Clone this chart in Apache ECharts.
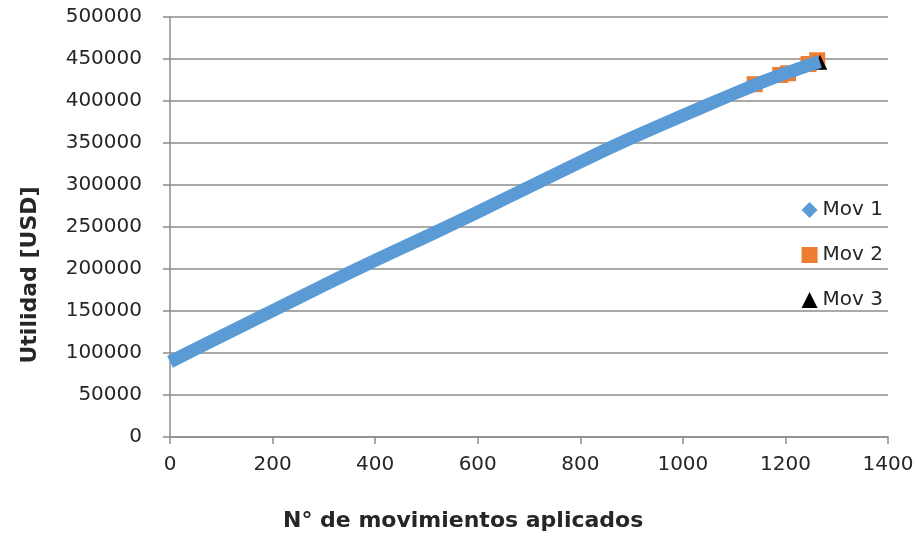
<!DOCTYPE html>
<html>
<head>
<meta charset="utf-8">
<script src="https://cdn.jsdelivr.net/npm/echarts@6/dist/echarts.min.js"></script>
<style>
  html, body { margin: 0; padding: 0; background: #fff; }
  #chart { width: 918px; height: 537px; }
</style>
</head>
<body>
<div id="chart"></div>
<script>
// valores
const mov1X = [0, 50, 100, 150, 200, 250, 300, 350, 400, 450, 500, 550, 600, 650, 700, 750, 800, 850, 900, 950, 1000, 1050, 1100, 1150, 1200, 1250, 1267];
const mov1Y = [89500, 104700, 119900, 135100, 150300, 165500, 180600, 195700, 210200, 224500, 238700, 253000, 267800, 282700, 297600, 312500, 327400, 342000, 356000, 369500, 382800, 395800, 408800, 421500, 433000, 443500, 447000];
const mov2X = [1140, 1190, 1205, 1245, 1262];
const mov2Y = [420000, 431000, 433000, 444000, 448500];
const mov3X = [1267];
const mov3Y = [446000];

const xTicks = [0, 200, 400, 600, 800, 1000, 1200, 1400];
const yTicks = [0, 50000, 100000, 150000, 200000, 250000, 300000, 350000, 400000, 450000, 500000];

const zip = (xs, ys) => xs.map((x, i) => [x, ys[i]]);

const chart = echarts.init(document.getElementById('chart'));

const textColor = '#262626';
const gridColor = '#8c8c8c';
const axisText = { color: textColor, fontSize: 20, fontFamily: 'DejaVu Sans', formatter: (v) => String(v) };

chart.setOption({
  animation: false,
  grid: { left: 170, right: 30, top: 17, bottom: 100 },
  legend: {
    orient: 'vertical',
    right: 30,
    top: 195,
    itemGap: 25,
    itemWidth: 16,
    itemHeight: 16,
    textStyle: { color: textColor, fontSize: 20, fontFamily: 'DejaVu Sans' },
    data: [
      { name: 'Mov 1', icon: 'diamond' },
      { name: 'Mov 2', icon: 'rect' },
      { name: 'Mov 3', icon: 'triangle' }
    ]
  },
  // títulos de ejes (desplazados como en el original)
  graphic: [
    {
      type: 'text',
      left: 283,
      top: 510,
      style: { text: 'N° de movimientos aplicados', fill: textColor, font: 'bold 22px "DejaVu Sans"' }
    },
    {
      type: 'text',
      x: 30,
      y: 275,
      rotation: Math.PI / 2,
      style: {
        text: 'Utilidad [USD]',
        fill: textColor,
        font: 'bold 22px "DejaVu Sans"',
        align: 'center',
        verticalAlign: 'middle'
      }
    }
  ],
  xAxis: {
    type: 'value',
    min: xTicks[0],
    max: xTicks[xTicks.length - 1],
    interval: 200,
    axisLine: { lineStyle: { color: gridColor, width: 1.5 } },
    axisTick: { show: true, length: 7, lineStyle: { color: gridColor, width: 1.5 } },
    axisLabel: { ...axisText, margin: 18 },
    splitLine: { show: false }
  },
  yAxis: {
    type: 'value',
    min: yTicks[0],
    max: yTicks[yTicks.length - 1],
    interval: 50000,
    axisLine: { show: true, lineStyle: { color: gridColor, width: 1.5 } },
    axisTick: { show: true, length: 7, lineStyle: { color: gridColor, width: 1.5 } },
    axisLabel: { ...axisText, margin: 28 },
    splitLine: { lineStyle: { color: gridColor, width: 1.5 } }
  },
  series: [
    {
      name: 'Mov 1',
      type: 'line',
      data: zip(mov1X, mov1Y),
      showSymbol: false,
      symbol: 'diamond',
      lineStyle: { color: '#5b9bd5', width: 13, cap: 'butt', join: 'round' },
      itemStyle: { color: '#5b9bd5' }
    },
    {
      name: 'Mov 2',
      type: 'scatter',
      data: zip(mov2X, mov2Y),
      symbol: 'rect',
      symbolSize: 16,
      itemStyle: { color: '#ed7d31', opacity: 1 }
    },
    {
      name: 'Mov 3',
      type: 'scatter',
      data: zip(mov3X, mov3Y),
      symbol: 'triangle',
      symbolSize: 15,
      itemStyle: { color: '#000000', opacity: 1 }
    }
  ]
});
</script>
</body>
</html>
